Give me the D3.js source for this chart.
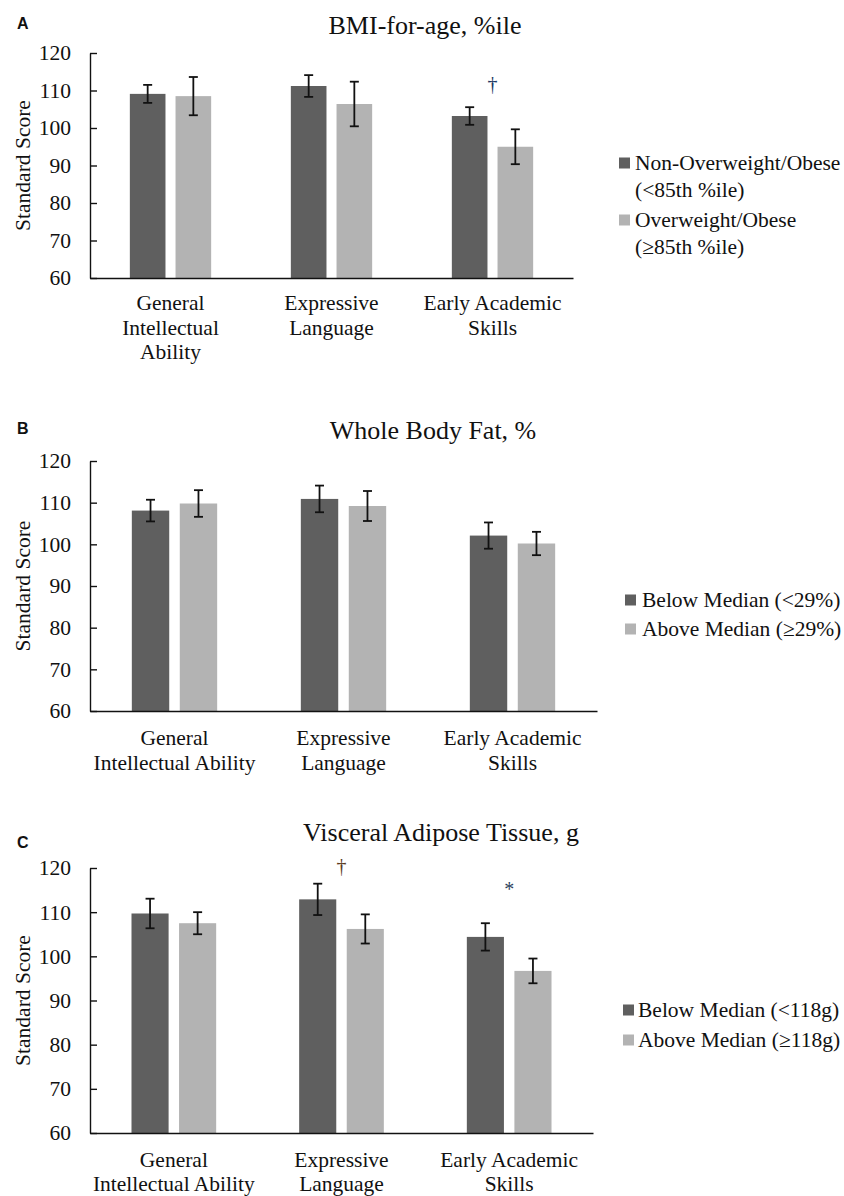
<!DOCTYPE html>
<html>
<head>
<meta charset="utf-8">
<script src="https://cdn.jsdelivr.net/npm/d3@7"></script>
<style>
  body { margin: 0; background: #fff; }
  text { font-family: "Liberation Serif", "Times New Roman", serif; fill: #111; }
  .letter { font-family: "Liberation Sans", Arial, sans-serif; font-weight: bold; }
</style>
</head>
<body>
<div id="node"></div>
<script>
// categories and x labels
const categories = ["General Intellectual Ability", "Expressive Language", "Early Academic Skills"];
const labelsA = [["General", "Intellectual", "Ability"], ["Expressive", "Language"], ["Early Academic", "Skills"]];
const labelsBC = [["General", "Intellectual Ability"], ["Expressive", "Language"], ["Early Academic", "Skills"]];
const yTicks = [60, 70, 80, 90, 100, 110, 120];

// A: BMI-for-age
const bmiLow = [109.1, 111.2, 103.2];
const bmiLowErr = [2.4, 2.9, 2.35];
const bmiHigh = [108.5, 106.4, 95.0];
const bmiHighErr = [5.1, 5.95, 4.65];
const bmiMarks = [null, null, "†"];
const bmiMarkLevel = [null, null, 111.5];
const bmiLegend = [["Non-Overweight/Obese", "(<85th %ile)"], ["Overweight/Obese", "(≥85th %ile)"]];

// B: whole body fat
const fatLow = [108.1, 110.9, 102.1];
const fatLowErr = [2.6, 3.2, 3.15];
const fatHigh = [109.8, 109.2, 100.2];
const fatHighErr = [3.2, 3.6, 2.8];
const fatLegend = [["Below Median (<29%)"], ["Above Median (≥29%)"]];

// C: visceral adipose tissue
const vatLow = [109.7, 112.9, 104.4];
const vatLowErr = [3.35, 3.55, 3.1];
const vatHigh = [107.5, 106.2, 96.7];
const vatHighErr = [2.5, 3.3, 2.8];
const vatMarks = [null, "†", "*"];
const vatMarkLevel = [null, 120.3, 116.1];
const vatLegend = [["Below Median (<118g)"], ["Above Median (≥118g)"]];

const colors = ["#5f5f5f", "#b3b3b3"];

const panels = [
    { letter: "A", title: "BMI-for-age, %ile", titleX: 425, titleY: 34, letterY: 29,
      top: 53, bottom: 278, left: 90, right: 573, labels: labelsA, labelY: 32, lineH: 24.7,
      low: bmiLow, lowErr: bmiLowErr, high: bmiHigh, highErr: bmiHighErr,
      marks: bmiMarks, markLevel: bmiMarkLevel, markColors: ["#203864", "#203864", "#203864"],
      legend: bmiLegend, legX: 619, legTextX: 635, legY: [163, 220] },
    { letter: "B", title: "Whole Body Fat, %", titleX: 433, titleY: 439, letterY: 434,
      top: 461, bottom: 711, left: 90, right: 597, labels: labelsBC, labelY: 34, lineH: 24.7,
      low: fatLow, lowErr: fatLowErr, high: fatHigh, highErr: fatHighErr,
      marks: [null, null, null], markLevel: [null, null, null], markColors: [],
      legend: fatLegend, legX: 625, legTextX: 642, legY: [600, 629] },
    { letter: "C", title: "Visceral Adipose Tissue, g", titleX: 441, titleY: 841, letterY: 848,
      top: 868, bottom: 1133, left: 90, right: 593, labels: labelsBC, labelY: 34, lineH: 24.2,
      low: vatLow, lowErr: vatLowErr, high: vatHigh, highErr: vatHighErr,
      marks: vatMarks, markLevel: vatMarkLevel, markColors: [null, "#5c3b1e", "#2e3f5c"],
      legend: vatLegend, legX: 623, legTextX: 638, legY: [1010, 1040] }
];

var svg = d3.select("#node")
    .append("svg")
    .attr("width", 844)
    .attr("height", 1196);

panels.forEach(p => drawPanel(p));

function drawPanel(p) {
    const g = svg.append("g");

    const y = d3.scaleLinear().domain([60, 120]).range([p.bottom, p.top]);
    const x0 = d3.scaleBand().domain(categories).range([p.left, p.right])
        .paddingInner(0.495).paddingOuter(0.2475);
    const x1 = d3.scaleBand().domain([0, 1]).range([0, x0.bandwidth()]).paddingInner(0.22);

    // letter and title
    g.append("text").attr("class", "letter")
        .attr("x", 17).attr("y", p.letterY)
        .style("font-size", "16px").text(p.letter);
    g.append("text")
        .attr("x", p.titleX).attr("y", p.titleY)
        .attr("text-anchor", "middle")
        .style("font-size", "26px").text(p.title);

    // rows for bars
    const rows = [];
    categories.forEach((c, i) => {
        rows.push({ cat: c, s: 0, v: p.low[i], e: p.lowErr[i] });
        rows.push({ cat: c, s: 1, v: p.high[i], e: p.highErr[i] });
    });

    g.append("g").selectAll("rect")
        .data(rows).enter()
        .append("rect")
        .attr("x", d => x0(d.cat) + x1(d.s))
        .attr("y", d => y(d.v))
        .attr("width", x1.bandwidth())
        .attr("height", d => y(60) - y(d.v))
        .attr("fill", d => colors[d.s]);

    // error bars
    const eb = g.append("g").attr("stroke", "#111").attr("stroke-width", 1.8);
    rows.forEach(d => {
        const cx = x0(d.cat) + x1(d.s) + x1.bandwidth() / 2;
        eb.append("line").attr("x1", cx).attr("x2", cx)
            .attr("y1", y(d.v + d.e)).attr("y2", y(d.v - d.e));
        [d.v + d.e, d.v - d.e].forEach(v => {
            eb.append("line").attr("x1", cx - 4.5).attr("x2", cx + 4.5)
                .attr("y1", y(v)).attr("y2", y(v));
        });
    });

    // significance marks
    categories.forEach((c, i) => {
        if (!p.marks[i]) return;
        g.append("text")
            .attr("x", x0(c) + x0.bandwidth() / 2)
            .attr("y", y(p.markLevel[i]))
            .attr("dy", p.marks[i] === "*" ? "0.55em" : "0.3em")
            .attr("text-anchor", "middle")
            .style("font-size", "20px")
            .style("fill", p.markColors[i])
            .text(p.marks[i]);
    });

    // y axis
    const yAxis = g.append("g")
        .attr("transform", "translate(" + p.left + ",0)")
        .call(d3.axisLeft(y).tickValues(yTicks).tickSize(-7).tickSizeOuter(0).tickPadding(19));
    yAxis.selectAll("path, line").attr("stroke", "#111").attr("stroke-width", 1.4);
    yAxis.selectAll("text")
        .style("font-size", "21.5px")
        .style("font-family", "'Liberation Serif', serif")
        .attr("fill", "#111");

    // x axis
    const xAxis = g.append("g")
        .attr("transform", "translate(0," + p.bottom + ")")
        .call(d3.axisBottom(x0).tickSize(0).tickSizeOuter(0));
    xAxis.select(".domain").attr("stroke", "#111").attr("stroke-width", 1.6);
    xAxis.selectAll(".tick text").each(function (d, i) {
        const t = d3.select(this).text(null)
            .attr("y", 0).attr("dy", null)
            .style("font-size", "21.5px")
            .style("font-family", "'Liberation Serif', serif")
            .attr("fill", "#111");
        p.labels[i].forEach((line, k) => {
            t.append("tspan").attr("x", 0).attr("y", p.labelY + k * p.lineH).text(line);
        });
    });

    // y axis label
    g.append("text")
        .attr("transform", "translate(23," + (p.top + p.bottom) / 2 + ") rotate(-90)")
        .attr("text-anchor", "middle")
        .attr("dy", "0.32em")
        .style("font-size", "21.5px")
        .text("Standard Score");

    // legend
    p.legend.forEach((lines, s) => {
        const ly = p.legY[s];
        g.append("rect")
            .attr("x", p.legX).attr("y", ly - 5.5)
            .attr("width", 11).attr("height", 11)
            .attr("fill", colors[s]);
        const t = g.append("text").style("font-size", "21.5px");
        lines.forEach((line, k) => {
            t.append("tspan").attr("x", p.legTextX).attr("y", ly + 7 + k * 27).text(line);
        });
    });
}
</script>
</body>
</html>
